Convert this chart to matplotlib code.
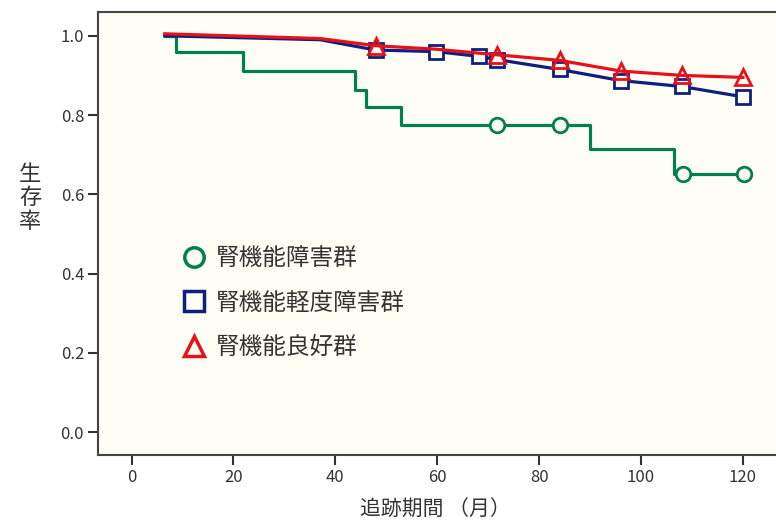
import matplotlib
matplotlib.use("Agg")
import matplotlib.pyplot as plt
from matplotlib.lines import Line2D

plt.rcParams['font.family'] = ['Noto Sans CJK JP', 'DejaVu Sans']

# survival curves (months, survival rate)
green_x = [6.5, 8.8, 21.9, 43.9, 46.1, 52.9, 90.0, 106.4, 120.3]
green_y = [1.0, 0.960, 0.911, 0.864, 0.819, 0.774, 0.714, 0.651, 0.651]
green_mark_x = [71.7, 84.0, 108.2, 120.3]
green_mark_y = [0.774, 0.774, 0.651, 0.651]

blue_x = [6.5, 37.0, 47.9, 59.8, 68.2, 71.7, 84.0, 96.0, 108.0, 120.0]
blue_y = [1.0, 0.990, 0.964, 0.960, 0.948, 0.940, 0.915, 0.887, 0.872, 0.846]
blue_mark_x = [47.9, 59.8, 68.2, 71.7, 84.0, 96.0, 108.0, 120.0]
blue_mark_y = [0.964, 0.960, 0.948, 0.940, 0.915, 0.887, 0.872, 0.846]

red_x = [6.5, 37.0, 47.9, 59.8, 71.7, 84.0, 96.0, 108.0, 120.0]
red_y = [1.005, 0.993, 0.975, 0.966, 0.952, 0.938, 0.911, 0.900, 0.895]
red_mark_x = [47.9, 71.7, 84.0, 96.0, 108.0, 120.0]
red_mark_y = [0.975, 0.952, 0.938, 0.911, 0.900, 0.895]

labels = ['腎機能障害群', '腎機能軽度障害群', '腎機能良好群']
green = '#00804a'
blue = '#0d2080'
red = '#e8101a'
bg = '#fffef4'

fig = plt.figure(figsize=(7.76, 5.21), dpi=100)
ax = fig.add_axes([98 / 776, 1 - 455 / 521, 1 - 98 / 776, (455 - 12) / 521])
ax.set_facecolor(bg)

ax.plot(green_x, green_y, color=green, lw=2.3, drawstyle='steps-post', zorder=2)
ax.plot(green_mark_x, green_mark_y, 'o', color=green, mfc=bg, ms=10.5, mew=2, zorder=3)

ax.plot(blue_x, blue_y, color=blue, lw=2.3, zorder=2)
ax.plot(blue_mark_x, blue_mark_y, 's', color=blue, mfc=bg, ms=10.5, mew=2, zorder=3)

ax.plot(red_x, red_y, color=red, lw=2.3, zorder=4)
ax.plot(red_mark_x, red_mark_y, '^', color=red, mfc='none', ms=11.5, mew=2, zorder=5)

ax.set_xlim(-6.6, 126.5)
ax.set_ylim(-0.058, 1.06)
ax.set_xticks([0, 20, 40, 60, 80, 100, 120])
ax.set_yticks([0.0, 0.2, 0.4, 0.6, 0.8, 1.0])
ax.set_yticklabels(['0.0', '0.2', '0.4', '0.6', '0.8', '1.0'])
ax.tick_params(direction='out', length=7, width=1.5, colors='#333333',
               labelsize=12, pad=3)
for s in ['left', 'bottom', 'top']:
    ax.spines[s].set_color('#444444')
    ax.spines[s].set_linewidth(1.5)
ax.spines['right'].set_visible(False)

fig.text(435 / 776, 1 - 510 / 521, '追跡期間 （月）', ha='center', va='center',
         fontsize=15, color='#333333')
fig.text(30 / 776, 1 - 198 / 521, '生\n存\n率', ha='center', va='center',
         fontsize=16, color='#333333', linespacing=1.0)

handles = [
    Line2D([], [], ls='none', marker='o', color=green, mfc='none', ms=14, mew=2.5),
    Line2D([], [], ls='none', marker='s', color=blue, mfc='none', ms=14, mew=2.5),
    Line2D([], [], ls='none', marker='^', color=red, mfc='none', ms=15, mew=2.5),
]
leg = ax.legend(handles, labels, loc='upper left', bbox_to_anchor=(0.107, 0.49),
                frameon=False, fontsize=17, handletextpad=0.3,
                labelspacing=0.9, handlelength=1.2, borderaxespad=0)
for t in leg.get_texts():
    t.set_color('#333333')

fig.savefig('out.png', dpi=100, facecolor='white')
